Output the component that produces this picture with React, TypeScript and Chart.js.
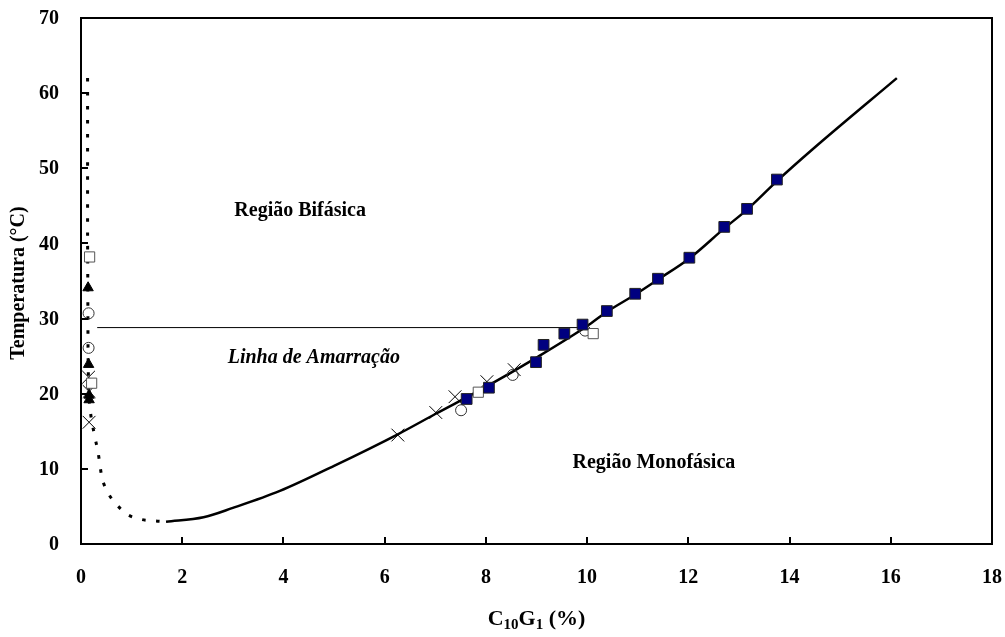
import React, { useEffect, useRef } from "react";
import { Chart, registerables } from "chart.js";

Chart.register(...registerables);

// ---- Data ----
const filledSquaresX = [7.62, 8.06, 8.99, 9.14, 9.55, 9.91, 10.39, 10.95, 11.40, 12.02, 12.71, 13.16, 13.75];
const filledSquaresY = [19.3, 20.8, 24.2, 26.5, 28.0, 29.2, 31.0, 33.3, 35.3, 38.1, 42.2, 44.6, 48.5];

const openSquaresX = [0.17, 0.21, 7.85, 10.12];
const openSquaresY = [38.2, 21.4, 20.2, 28.0];

const circlesX = [0.15, 0.15, 7.51, 8.53, 9.96];
const circlesY = [30.7, 26.1, 17.8, 22.5, 28.4];

const trianglesX = [0.14, 0.15, 0.16, 0.16];
const trianglesY = [34.1, 23.9, 19.8, 19.2];

const crossesX = [0.15, 0.16, 0.16, 6.26, 7.01, 7.39, 8.02, 8.56];
const crossesY = [22.2, 20.3, 16.2, 14.5, 17.5, 19.6, 21.6, 23.2];

const solidCurveX = [1.68, 2.42, 3.0, 3.93, 5.0, 6.26, 7.0, 8.0, 9.0, 10.0, 10.39, 10.95, 11.4, 12.02, 12.71, 13.16, 13.75, 14.45, 16.12];
const solidCurveY = [2.97, 3.55, 4.8, 7.06, 10.4, 14.6, 17.3, 20.9, 24.8, 29.0, 30.9, 33.2, 35.2, 38.0, 42.0, 44.5, 48.3, 52.5, 62.0];

const dottedCurveX = [0.13, 0.13, 0.14, 0.18, 0.26, 0.34, 0.41, 0.54, 0.71, 0.9, 1.17, 1.48, 1.68];
const dottedCurveY = [62.0, 40.0, 25.0, 18.0, 14.7, 12.1, 9.0, 6.75, 5.2, 4.0, 3.3, 3.06, 2.97];

const tieLineX = [0.32, 9.88];
const tieLineY = [28.8, 28.8];

const xTickValues = [0, 2, 4, 6, 8, 10, 12, 14, 16, 18];
const yTickValues = [0, 10, 20, 30, 40, 50, 60, 70];

const annotationTexts = ["Região Bifásica", "Linha de Amarração", "Região Monofásica"];
const annotationX = [4.33, 4.6, 11.32];
const annotationY = [44.4, 24.8, 10.8];

const FONT = '"Liberation Serif", "Times New Roman", serif';

const pts = (xs: number[], ys: number[]) => xs.map((x, i) => ({ x, y: ys[i] }));

const framePlugin = {
  id: "framePlugin",
  afterDraw(chart: any) {
    const { ctx, chartArea } = chart;
    const { left, right, top, bottom } = chartArea;
    const xs = chart.scales.x;
    const ys = chart.scales.y;
    ctx.save();
    ctx.strokeStyle = "#000";
    ctx.lineWidth = 2;
    ctx.strokeRect(left, top, right - left, bottom - top);
    ctx.beginPath();
    yTickValues.forEach((v) => {
      const py = Math.round(ys.getPixelForValue(v));
      ctx.moveTo(left, py);
      ctx.lineTo(left + 7, py);
    });
    xTickValues.forEach((v) => {
      const px = Math.round(xs.getPixelForValue(v));
      ctx.moveTo(px, bottom);
      ctx.lineTo(px, bottom - 7);
    });
    ctx.stroke();

    // tick labels
    ctx.fillStyle = "#000";
    ctx.font = "bold 20px " + FONT;
    ctx.textBaseline = "middle";
    ctx.textAlign = "right";
    yTickValues.forEach((v) => {
      ctx.fillText(String(v), left - 22, ys.getPixelForValue(v) + 1);
    });
    ctx.textAlign = "center";
    xTickValues.forEach((v) => {
      ctx.fillText(String(v), xs.getPixelForValue(v), bottom + 34);
    });

    // annotations
    ctx.textAlign = "center";
    ctx.textBaseline = "middle";
    annotationTexts.forEach((t, i) => {
      ctx.font = (i === 1 ? "italic " : "") + "bold 20px " + FONT;
      ctx.fillText(t, xs.getPixelForValue(annotationX[i]), ys.getPixelForValue(annotationY[i]));
    });

    // y title
    ctx.save();
    ctx.translate(19, (top + bottom) / 2 + 2);
    ctx.rotate(-Math.PI / 2);
    ctx.font = "bold 20px " + FONT;
    ctx.textAlign = "center";
    ctx.textBaseline = "middle";
    ctx.fillText("Temperatura (°C)", 0, 0);
    ctx.restore();

    // x title with subscripts
    const parts: [string, boolean][] = [["C", false], ["10", true], ["G", false], ["1", true], [" (%)", false]];
    const mainFont = "bold 22px " + FONT;
    const subFont = "bold 15px " + FONT;
    let total = 0;
    parts.forEach(([s, sub]) => {
      ctx.font = sub ? subFont : mainFont;
      total += ctx.measureText(s).width;
    });
    let cx = (left + right) / 2 - total / 2;
    const baseY = 625;
    ctx.textAlign = "left";
    ctx.textBaseline = "alphabetic";
    parts.forEach(([s, sub]) => {
      ctx.font = sub ? subFont : mainFont;
      ctx.fillText(s, cx, sub ? baseY + 4 : baseY);
      cx += ctx.measureText(s).width;
    });
    ctx.restore();
  },
};

export default function App() {
  const ref = useRef<HTMLCanvasElement | null>(null);
  useEffect(() => {
    document.body.style.margin = "0";
    if (!ref.current) return;
    const chart = new Chart(ref.current, {
      type: "scatter",
      data: {
        datasets: [
          {
            label: "filled",
            data: pts(filledSquaresX, filledSquaresY),
            pointStyle: "rect",
            pointRadius: 7.6,
            backgroundColor: "#000080",
            borderColor: "#222",
            borderWidth: 1,
            showLine: false,
          },
          {
            label: "open squares",
            data: pts(openSquaresX, openSquaresY),
            pointStyle: "rect",
            pointRadius: 7.2,
            backgroundColor: "#fff",
            borderColor: "#555",
            borderWidth: 1,
            showLine: false,
          },
          {
            label: "circles",
            data: pts(circlesX, circlesY),
            pointStyle: "circle",
            pointRadius: 5.5,
            backgroundColor: "rgba(255,255,255,0)",
            borderColor: "#333",
            borderWidth: 1,
            showLine: false,
          },
          {
            label: "triangles",
            data: pts(trianglesX, trianglesY),
            pointStyle: "triangle",
            pointRadius: 6,
            backgroundColor: "#000",
            borderColor: "#000",
            borderWidth: 1,
            showLine: false,
          },
          {
            label: "crosses",
            data: pts(crossesX, crossesY),
            pointStyle: "crossRot",
            pointRadius: 9,
            backgroundColor: "#000",
            borderColor: "#000",
            borderWidth: 1,
            showLine: false,
          },
          {
            label: "tie",
            data: pts(tieLineX, tieLineY),
            showLine: true,
            pointRadius: 0,
            borderColor: "#000",
            borderWidth: 1,
          },
          {
            label: "solid",
            data: pts(solidCurveX, solidCurveY),
            showLine: true,
            pointRadius: 0,
            borderColor: "#000",
            borderWidth: 2.5,
            cubicInterpolationMode: "monotone",
          },
          {
            label: "dotted",
            data: pts(dottedCurveX, dottedCurveY),
            showLine: true,
            pointRadius: 0,
            borderColor: "#000",
            borderWidth: 3,
            borderDash: [3.5, 10.5],
            borderCapStyle: "butt",
            cubicInterpolationMode: "monotone",
          },
        ],
      } as any,
      options: {
        animation: false,
        responsive: false,
        maintainAspectRatio: false,
        events: [],
        layout: { padding: { left: 0, top: 18, right: 13, bottom: 0 } },
        plugins: { legend: { display: false }, tooltip: { enabled: false } },
        scales: {
          x: {
            type: "linear",
            min: 0,
            max: 18,
            afterFit: (axis: any) => {
              axis.height = 93;
            },
            grid: { display: false, drawTicks: false },
            border: { display: false },
            ticks: { display: false },
          },
          y: {
            type: "linear",
            min: 0,
            max: 70,
            afterFit: (axis: any) => {
              axis.width = 81;
            },
            grid: { display: false, drawTicks: false },
            border: { display: false },
            ticks: { display: false },
          },
        },
      } as any,
      plugins: [framePlugin],
    });
    return () => chart.destroy();
  }, []);
  return (
    <div style={{ width: 1005, height: 637 }}>
      <canvas ref={ref} width={1005} height={637} style={{ width: 1005, height: 637, display: "block" }} />
    </div>
  );
}
